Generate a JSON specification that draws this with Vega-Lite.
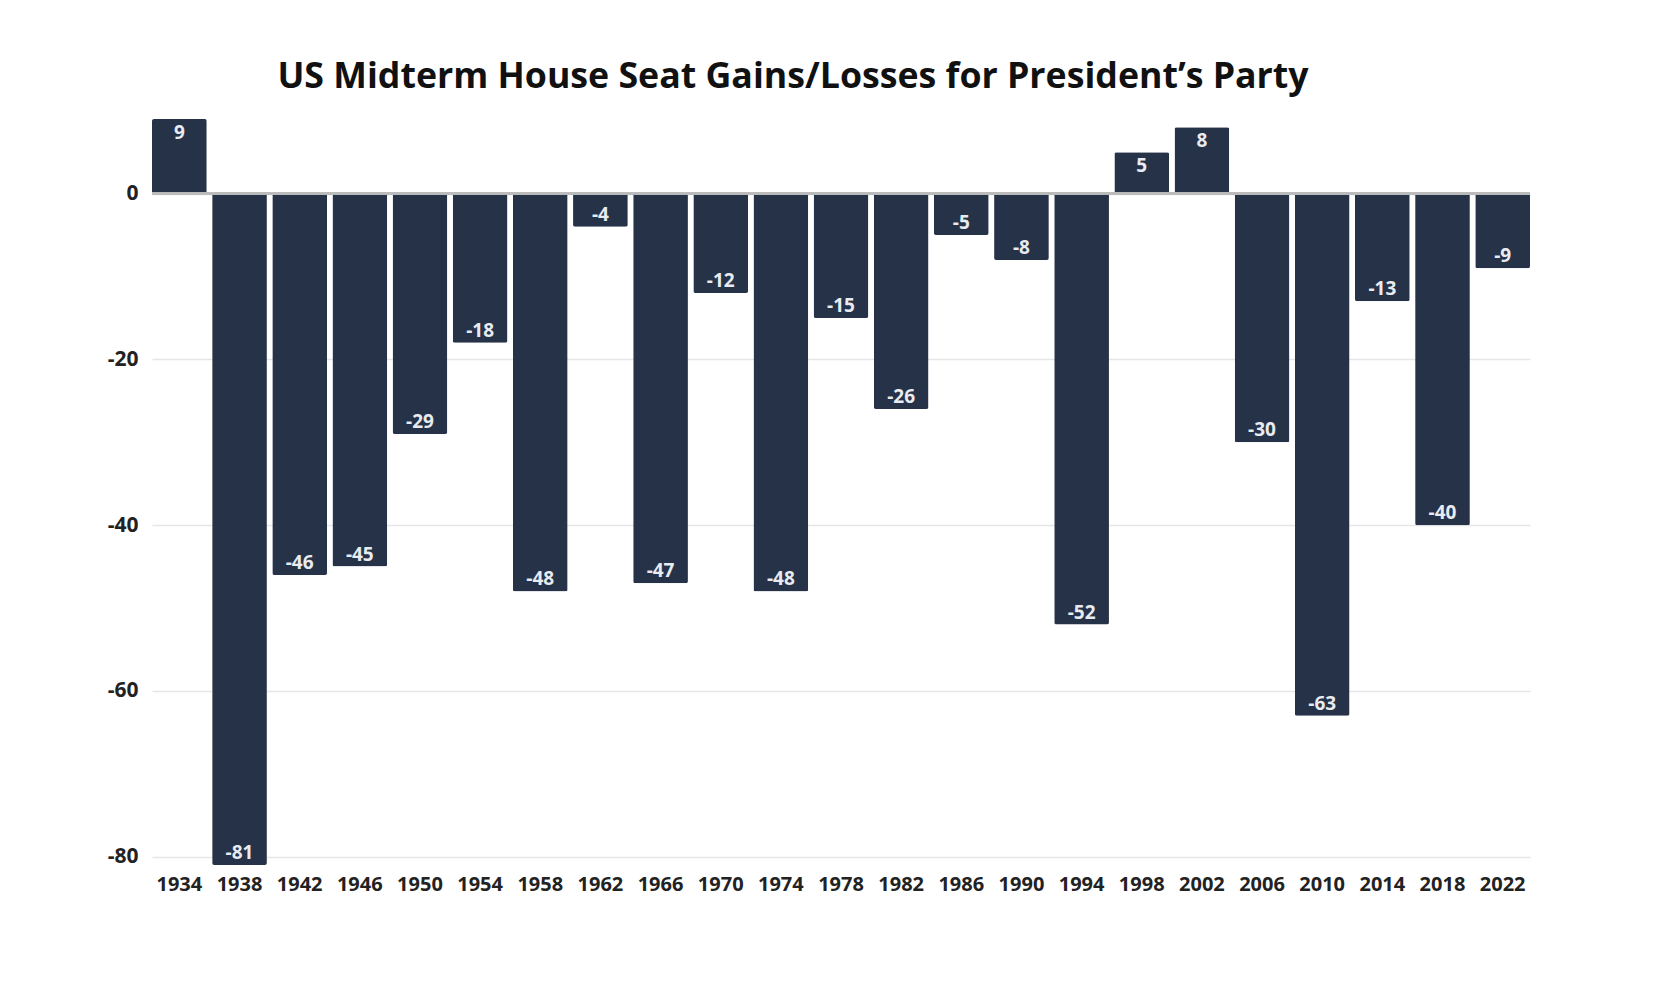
{
  "$schema": "https://vega.github.io/schema/vega-lite/v6.json",
  "autosize": {"type": "none"},
  "width": 1378,
  "height": 746,
  "padding": {"left": 152, "top": 119, "right": 142, "bottom": 121},
  "background": "white",
  "title": {
    "text": "US Midterm House Seat Gains/Losses for President’s Party",
    "font": "Open Sans",
    "fontSize": 35.7,
    "fontWeight": "bold",
    "color": "#111111",
    "anchor": "middle",
    "dx": -48,
    "offset": 23
  },
  "config": {
    "view": {"stroke": null},
    "axis": {"labelFont": "Open Sans", "labelFontWeight": "bold", "labelColor": "#222222", "labelFontSize": 20}
  },
  "data": {
    "values": [
      {"year": "1934", "seats": 9},
      {"year": "1938", "seats": -81},
      {"year": "1942", "seats": -46},
      {"year": "1946", "seats": -45},
      {"year": "1950", "seats": -29},
      {"year": "1954", "seats": -18},
      {"year": "1958", "seats": -48},
      {"year": "1962", "seats": -4},
      {"year": "1966", "seats": -47},
      {"year": "1970", "seats": -12},
      {"year": "1974", "seats": -48},
      {"year": "1978", "seats": -15},
      {"year": "1982", "seats": -26},
      {"year": "1986", "seats": -5},
      {"year": "1990", "seats": -8},
      {"year": "1994", "seats": -52},
      {"year": "1998", "seats": 5},
      {"year": "2002", "seats": 8},
      {"year": "2006", "seats": -30},
      {"year": "2010", "seats": -63},
      {"year": "2014", "seats": -13},
      {"year": "2018", "seats": -40},
      {"year": "2022", "seats": -9}
    ]
  },
  "encoding": {
    "x": {
      "field": "year", "type": "ordinal", "sort": null,
      "scale": {"paddingInner": 0.09, "paddingOuter": 0},
      "axis": {"title": null, "labelAngle": 0, "domain": false, "ticks": false, "labelPadding": 9}
    },
    "y": {
      "field": "seats", "type": "quantitative",
      "scale": {"domain": [-81, 9], "nice": false, "zero": false},
      "axis": {"title": null, "values": [0, -20, -40, -60, -80], "labelExpr": "replace(datum.label, '−', '-')", "labelFontSize": 21, "domain": false, "ticks": false, "labelPadding": 14, "gridColor": "#e6e6e6", "gridWidth": 1.5}
    }
  },
  "layer": [
    {
      "mark": {"type": "bar", "color": "#263248", "cornerRadius": 2}
    },
    {
      "mark": {"type": "rule", "color": "#bbbbbb", "strokeWidth": 1.5},
      "encoding": {"x": null, "y": {"datum": 0, "type": "quantitative"}}
    },
    {
      "transform": [{"filter": "datum.seats >= 0"}],
      "mark": {"type": "text", "color": "#e8ebf0", "font": "Open Sans", "fontWeight": "bold", "fontSize": 19, "baseline": "middle", "dy": 14},
      "encoding": {"text": {"field": "seats"}}
    },
    {
      "transform": [{"filter": "datum.seats < 0"}],
      "mark": {"type": "text", "color": "#e8ebf0", "font": "Open Sans", "fontWeight": "bold", "fontSize": 19, "baseline": "middle", "dy": -12},
      "encoding": {"text": {"field": "seats"}}
    }
  ]
}
